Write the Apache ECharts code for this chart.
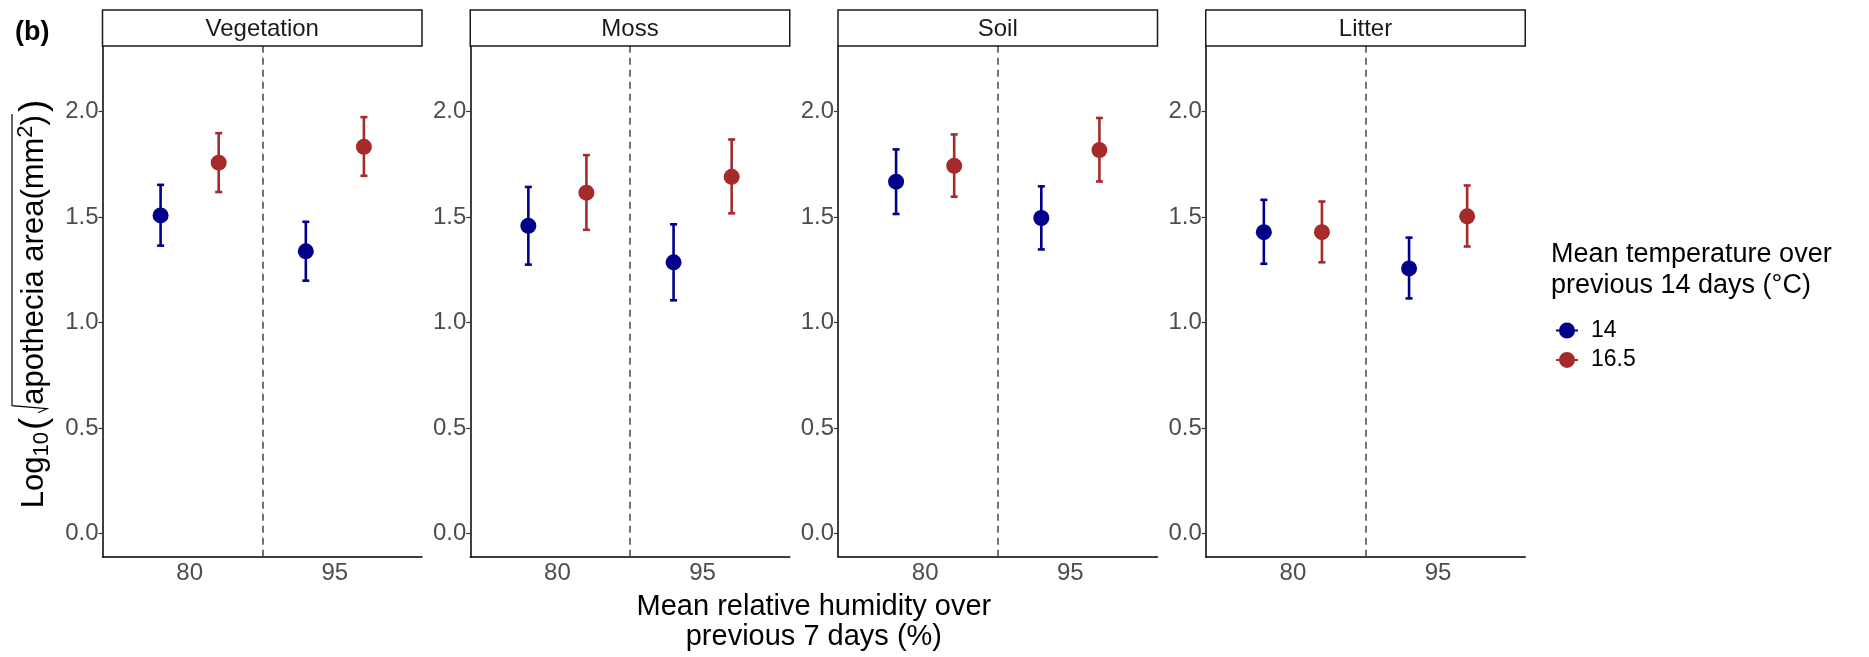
<!DOCTYPE html>
<html>
<head>
<meta charset="utf-8">
<script src="https://cdn.jsdelivr.net/npm/echarts@6/dist/echarts.min.js"></script>
<style>
  html, body { margin: 0; padding: 0; background: #fff; }
  #chart { width: 1869px; height: 657px; }
</style>
</head>
<body>
<div id="chart"></div>
<script>
// ---------------- data ----------------
const facets = ['Vegetation', 'Moss', 'Soil', 'Litter'];
const humidity = ['80', '95'];
const temps = ['14', '16.5'];
const yTicks = [0, 0.5, 1.0, 1.5, 2.0];

// values per facet: [at 80, at 95]
const mean14   = [[1.507, 1.337], [1.458, 1.285], [1.667, 1.495], [1.428, 1.256]];
const lower14  = [[1.364, 1.198], [1.274, 1.105], [1.514, 1.346], [1.278, 1.114]];
const upper14  = [[1.652, 1.477], [1.642, 1.465], [1.820, 1.645], [1.581, 1.402]];
const mean165  = [[1.757, 1.832], [1.615, 1.690], [1.742, 1.817], [1.428, 1.503]];
const lower165 = [[1.618, 1.695], [1.439, 1.517], [1.596, 1.668], [1.285, 1.360]];
const upper165 = [[1.897, 1.973], [1.793, 1.867], [1.891, 1.969], [1.573, 1.649]];

// ---------------- style / layout ----------------
const FONT = '"Liberation Sans", Arial, sans-serif';
const colors = ['#00008B', '#A52A2A'];
const panelLeft0 = 102.5, panelStep = 367.75, panelW = 319.5;
const panelTop = 46, panelBottom = 556.7;
const stripTop = 10;
const dodge = 0.2;

const means = [mean14, mean165];
const lowers = [lower14, lower165];
const uppers = [upper14, upper165];

const grids = [], xAxes = [], yAxes = [], series = [], graphics = [];

facets.forEach((f, i) => {
  const left = panelLeft0 + i * panelStep;
  grids.push({ left: left, top: panelTop, width: panelW, height: panelBottom - panelTop, containLabel: false });
  xAxes.push({
    type: 'value', gridIndex: i, min: 0.4, max: 2.6,
    axisLine: { show: true, onZero: false, lineStyle: { color: '#000', width: 1.5 } },
    axisTick: { show: false },
    splitLine: { show: false },
    axisLabel: {
      customValues: [1, 2],
      formatter: v => humidity[Math.round(v) - 1],
      fontSize: 24, color: '#4D4D4D', fontFamily: FONT, margin: 5
    }
  });
  yAxes.push({
    type: 'value', gridIndex: i, min: -0.11, max: 2.31,
    axisLine: { show: true, onZero: false, lineStyle: { color: '#000', width: 1.5 } },
    axisTick: { show: true, customValues: yTicks, length: 4, lineStyle: { color: '#333', width: 1.2 } },
    splitLine: { show: false },
    axisLabel: {
      customValues: yTicks,
      formatter: v => v.toFixed(1),
      fontSize: 24, color: '#4D4D4D', fontFamily: FONT, margin: 4
    }
  });

  temps.forEach((t, k) => {
    const xs = humidity.map((h, j) => j + 1 + (k === 0 ? -dodge : dodge));
    const col = colors[k];
    const eb = {
      type: 'custom', name: t, xAxisIndex: i, yAxisIndex: i, z: 2, silent: true,
      itemStyle: { color: col },
      encode: { x: 0, y: [1, 2] },
      data: humidity.map((h, j) => [xs[j], lowers[k][i][j], uppers[k][i][j]]),
      renderItem: (params, api) => {
        const x = api.value(0);
        const pLo = api.coord([x, api.value(1)]);
        const pHi = api.coord([x, api.value(2)]);
        const hw = 3.5;
        const st = { stroke: col, lineWidth: 2.6 };
        return {
          type: 'group', children: [
            { type: 'line', shape: { x1: pLo[0], y1: pLo[1], x2: pHi[0], y2: pHi[1] }, style: st },
            { type: 'line', shape: { x1: pLo[0] - hw, y1: pLo[1], x2: pLo[0] + hw, y2: pLo[1] }, style: st },
            { type: 'line', shape: { x1: pHi[0] - hw, y1: pHi[1], x2: pHi[0] + hw, y2: pHi[1] }, style: st }
          ]
        };
      }
    };
    if (k === 0) {
      eb.markLine = {
        silent: true, symbol: ['none', 'none'], label: { show: false },
        lineStyle: { type: [7, 5], color: '#444', width: 1.5 },
        data: [{ xAxis: 1.5 }]
      };
    }
    series.push(eb);
    series.push({
      type: 'scatter', name: t, xAxisIndex: i, yAxisIndex: i, z: 3, silent: true,
      symbol: 'circle', symbolSize: 16,
      itemStyle: { color: col, opacity: 1 },
      data: humidity.map((h, j) => [xs[j], means[k][i][j]])
    });
  });

  // strip
  graphics.push({
    type: 'rect', shape: { x: left, y: stripTop, width: panelW, height: panelTop - stripTop },
    style: { fill: '#fff', stroke: '#1a1a1a', lineWidth: 1.5 }, z: 10
  });
  graphics.push({
    type: 'text', x: left + panelW / 2, y: (stripTop + panelTop) / 2 + 1, z: 11,
    style: { text: f, fontSize: 24, fontFamily: FONT, fill: '#1A1A1A', align: 'center', verticalAlign: 'middle' }
  });
});

// panel tag
graphics.push({
  type: 'text', x: 15, y: 33, z: 11,
  style: { text: '(b)', fontSize: 27, fontWeight: 'bold', fontFamily: FONT, fill: '#000', align: 'left', verticalAlign: 'middle' }
});

// x title
const xCenter = (panelLeft0 + panelLeft0 + 3 * panelStep + panelW) / 2;
graphics.push({
  type: 'text', x: xCenter, y: 607, z: 11,
  style: { text: 'Mean relative humidity over', fontSize: 29, fontFamily: FONT, fill: '#000', align: 'center', verticalAlign: 'middle' }
});
graphics.push({
  type: 'text', x: xCenter, y: 637, z: 11,
  style: { text: 'previous 7 days (%)', fontSize: 29, fontFamily: FONT, fill: '#000', align: 'center', verticalAlign: 'middle' }
});

// legend title
graphics.push({
  type: 'text', x: 1551, y: 255, z: 11,
  style: { text: 'Mean temperature over', fontSize: 27, fontFamily: FONT, fill: '#000', align: 'left', verticalAlign: 'middle' }
});
graphics.push({
  type: 'text', x: 1551, y: 286, z: 11,
  style: { text: 'previous 14 days (°C)', fontSize: 27, fontFamily: FONT, fill: '#000', align: 'left', verticalAlign: 'middle' }
});

// y title: Log10( sqrt(apothecia area(mm^2)) )
(function () {
  const ctx = document.createElement('canvas').getContext('2d');
  const w = (s, fs) => { ctx.font = fs + 'px ' + FONT; return ctx.measureText(s).width; };
  const parts = [
    { s: 'Log', fs: 31, dx: 0 },
    { s: '10', fs: 22, dx: 7, gapAfter: 2 },
    { s: '(', fs: 37, dx: 0, gapAfter: 3 },
    { s: '', rad: 10 },
    { s: 'apothecia area(mm', fs: 31, dx: 0, ov: true },
    { s: '2', fs: 22, dx: -9, ov: true },
    { s: ')', fs: 31, dx: 0, ov: true },
    { s: ')', fs: 37, dx: 0, gapBefore: 3 }
  ];
  let total = 0;
  parts.forEach(p => {
    p.w = p.rad ? p.rad : w(p.s, p.fs);
    total += p.w + (p.gapAfter || 0) + (p.gapBefore || 0);
  });
  const cy = 304, cx = 34.5;
  let y = cy + total / 2;
  let ovStart = null, ovEnd = null, radBottom = null;
  parts.forEach(p => {
    y -= (p.gapBefore || 0);
    if (p.rad) {
      radBottom = y;
      y -= p.w;
      ovStart = y;
      return;
    }
    graphics.push({
      type: 'text', x: cx + p.dx, y: y - p.w / 2, rotation: Math.PI / 2, z: 11,
      style: { text: p.s, fontSize: p.fs, fontFamily: FONT, fill: '#000', align: 'center', verticalAlign: 'middle' }
    });
    y -= p.w;
    if (p.ov) ovEnd = y;
    y -= (p.gapAfter || 0);
  });
  const ovX = 12;
  graphics.push({
    type: 'polyline', z: 11,
    shape: { points: [[38, radBottom - 2], [47, radBottom - 6], [ovX, ovStart + 1], [ovX, ovEnd - 1]] },
    style: { stroke: '#000', lineWidth: 1.2, fill: null }
  });
})();

const chart = echarts.init(document.getElementById('chart'), null, { renderer: 'canvas' });
chart.setOption({
  animation: false,
  backgroundColor: '#fff',
  color: colors,
  grid: grids,
  xAxis: xAxes,
  yAxis: yAxes,
  legend: {
    data: temps.map((t, k) => ({ name: t, itemStyle: { color: colors[k] } })),
    orient: 'vertical', left: 1551, top: 314,
    itemWidth: 22, itemHeight: 17, itemGap: 6.4, selectedMode: false,
    icon: 'path://M0,7.5L3.5,7.5L3.5,9.5L0,9.5Z M18.5,7.5L22,7.5L22,9.5L18.5,9.5Z M3,8.5A8,8 0 1,1 19,8.5A8,8 0 1,1 3,8.5Z',
    textStyle: { fontSize: 23, lineHeight: 22, color: '#000', fontFamily: FONT, padding: [0, 0, 0, 8] }
  },
  series: series,
  graphic: graphics
});
</script>
</body>
</html>
